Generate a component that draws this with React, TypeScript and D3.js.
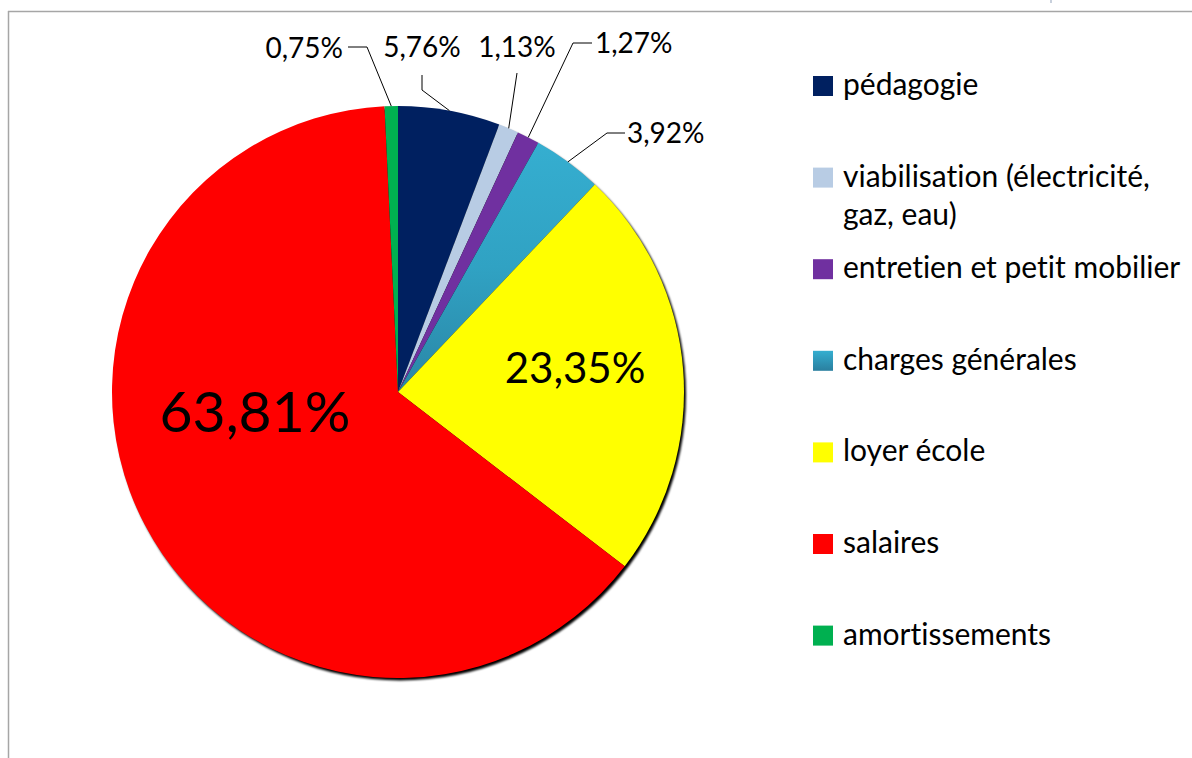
import React from "react";
import * as d3 from "d3";

const categories = [
  "pédagogie",
  "viabilisation (électricité, gaz, eau)",
  "entretien et petit mobilier",
  "charges générales",
  "loyer école",
  "salaires",
  "amortissements",
];
const values = [5.76, 1.13, 1.27, 3.92, 23.35, 63.81, 0.75];
const valueLabels = ["5,76%", "1,13%", "1,27%", "3,92%", "23,35%", "63,81%", "0,75%"];
const legendLines = [
  ["pédagogie"],
  ["viabilisation (électricité,", "gaz, eau)"],
  ["entretien et petit mobilier"],
  ["charges générales"],
  ["loyer école"],
  ["salaires"],
  ["amortissements"],
];
const colors = ["#002060", "#b8cce4", "#7030a0", "url(#gradCharges)", "#ffff00", "#ff0000", "#00b050"];
const legendColors = ["#002060", "#b8cce4", "#7030a0", "url(#gradChargesL)", "#ffff00", "#ff0000", "#00b050"];

// layout of the labels (text anchor point, leader elbow), by slice index
const labelLayout: Record<number, { x: number; y: number; anchor: string; elbow?: [number, number][]; size: number; leader: boolean }> = {
  0: { x: 422, y: 57, anchor: "middle", elbow: [[422, 75], [422, 90]], size: 28, leader: true },
  1: { x: 517, y: 57, anchor: "middle", elbow: [[517, 73]], size: 28, leader: true },
  2: { x: 595, y: 53, anchor: "start", elbow: [[592, 43], [573, 43]], size: 28, leader: true },
  3: { x: 627, y: 143, anchor: "start", elbow: [[625, 133], [607, 133]], size: 28, leader: true },
  4: { x: 575, y: 383, anchor: "middle", size: 42, leader: false },
  5: { x: 255, y: 432, anchor: "middle", size: 57, leader: false },
  6: { x: 343, y: 58, anchor: "end", elbow: [[348, 47], [367, 47]], size: 28, leader: true },
};

const FONT = "Lato, 'Open Sans', sans-serif";
const textStyle: React.CSSProperties = { fontVariantLigatures: "none", fontFeatureSettings: '"liga" 0, "clig" 0' };

export default function App() {
  const W = 1192, H = 758;
  const cx = 398, cy = 392, r = 286;
  const pie = d3.pie<number>().sort(null).value((d) => d);
  const arcs = pie(values);
  const arcGen = d3.arc<d3.PieArcDatum<number>>().innerRadius(0).outerRadius(r);

  const legendX = 813;
  const legendY0 = 76;
  const legendStep = 91.6;

  return (
    <svg width={W} height={H} style={{ position: "absolute", left: 0, top: 0 }}>
      <defs>
        <linearGradient id="gradCharges" x1="0" y1="0" x2="0" y2="1">
          <stop offset="0" stopColor="#35aed0" />
          <stop offset="0.5" stopColor="#30a2c3" />
          <stop offset="1" stopColor="#2a86a6" />
        </linearGradient>
        <linearGradient id="gradChargesL" x1="0" y1="0" x2="0" y2="1">
          <stop offset="0" stopColor="#35aed0" />
          <stop offset="1" stopColor="#2a7f9f" />
        </linearGradient>
        <filter id="shadowBlur" x="-10%" y="-10%" width="120%" height="120%">
          <feGaussianBlur stdDeviation="0.8" />
        </filter>
      </defs>
      <rect x={0} y={0} width={W} height={H} fill="#ffffff" />
      {/* frame */}
      <line x1={8.5} y1={11} x2={8.5} y2={H} stroke="#a6a6a6" strokeWidth={1.5} />
      <line x1={8} y1={11.5} x2={W} y2={11.5} stroke="#a6a6a6" strokeWidth={1.5} />
      <line x1={1051} y1={0} x2={1051} y2={3} stroke="#c8d0dc" strokeWidth={2} />

      {/* shadow */}
      <circle cx={cx + 2} cy={cy + 2.5} r={r} fill="#000" filter="url(#shadowBlur)" />

      <g transform={`translate(${cx},${cy})`}>
        {arcs.map((a, i) => (
          <path key={i} d={arcGen(a) || ""} fill={colors[i]} />
        ))}
      </g>

      {/* leader lines and labels */}
      {arcs.map((a, i) => {
        const L = labelLayout[i];
        const mid = (a.startAngle + a.endAngle) / 2;
        const ax = cx + r * Math.sin(mid);
        const ay = cy - r * Math.cos(mid);
        const pts: [number, number][] = L.leader ? [...(L.elbow || []), [ax, ay]] : [];
        return (
          <g key={i}>
            {L.leader && (
              <polyline points={pts.map((p) => p.join(",")).join(" ")} fill="none" stroke="#000" strokeWidth={1} />
            )}
            <text x={L.x} y={L.y} textAnchor={L.anchor} fontFamily={FONT} fontSize={L.size} fill="#000" style={textStyle}>
              {valueLabels[i]}
            </text>
          </g>
        );
      })}

      {/* legend */}
      {categories.map((c, i) => {
        const y = legendY0 + i * legendStep;
        return (
          <g key={c}>
            <rect x={legendX} y={y} width={20} height={20} fill={legendColors[i]} />
            {legendLines[i].map((ln, j) => (
              <text key={j} x={843} y={y + 19 + j * 38} fontFamily={FONT} fontSize={30} fill="#000" style={textStyle}>
                {ln}
              </text>
            ))}
          </g>
        );
      })}
    </svg>
  );
}
